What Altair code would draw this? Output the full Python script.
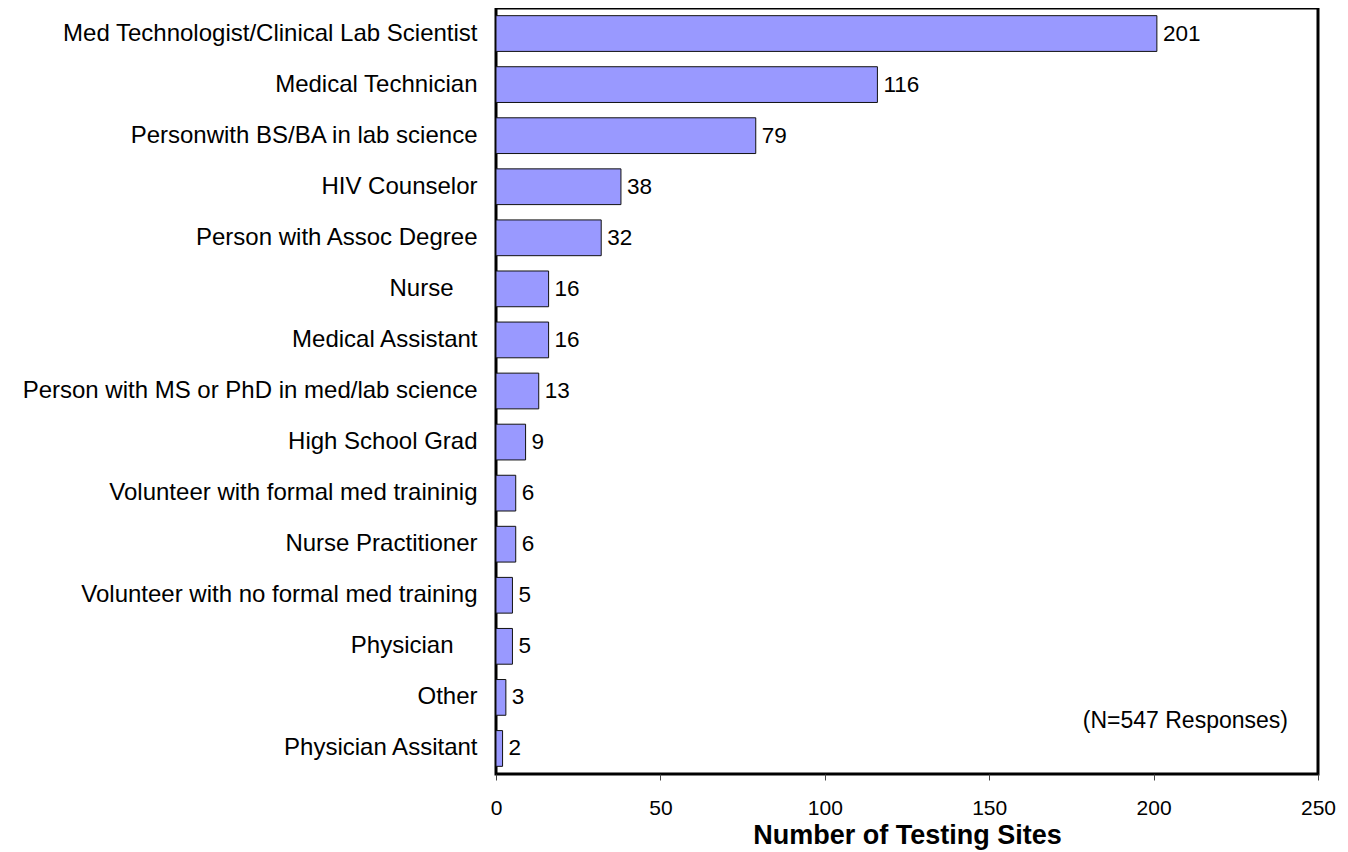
import altair as alt
import pandas as pd

categories = [
    "Med Technologist/Clinical Lab Scientist",
    "Medical Technician",
    "Personwith BS/BA in lab science",
    "HIV Counselor",
    "Person with Assoc Degree",
    "Nurse\u2003\u200b",
    "Medical Assistant",
    "Person with MS or PhD in med/lab science",
    "High School Grad",
    "Volunteer with formal med traininig",
    "Nurse Practitioner",
    "Volunteer with no formal med training",
    "Physician\u2003\u200b",
    "Other",
    "Physician Assitant",
]
values = [201, 116, 79, 38, 32, 16, 16, 13, 9, 6, 6, 5, 5, 3, 2]
tick_values = [0, 50, 100, 150, 200, 250]

df = pd.DataFrame({"role": categories, "sites": values})

FONT = "Liberation Sans"

y_enc = alt.Y(
    "role:N",
    sort=categories,
    scale=alt.Scale(paddingInner=0.3, paddingOuter=0.15),
    axis=alt.Axis(
        title=None, ticks=False, domain=False, labelFontSize=24,
        labelFont=FONT, labelColor="black", labelPadding=19, labelLimit=700,
    ),
)
x_enc = alt.X(
    "sites:Q",
    scale=alt.Scale(domain=[0, 250], nice=False),
    axis=alt.Axis(
        title="Number of Testing Sites", values=tick_values,
        grid=False, domain=False, tickSize=6, tickColor="#444",
        labelFlush=False,
        labelFontSize=21, labelFont=FONT, labelColor="black", labelPadding=17,
        titleFontSize=27, titleFont=FONT, titleFontWeight="bold",
        titleColor="black", titlePadding=4,
    ),
)

bars = alt.Chart(df).mark_bar(
    color="#9999FF", stroke="#111", strokeWidth=1
).encode(x=x_enc, y=y_enc)

labels = alt.Chart(df).mark_text(
    align="left", baseline="middle", dx=6, fontSize=22.5, font=FONT, color="black"
).encode(x="sites:Q", y=alt.Y("role:N", sort=categories), text="sites:Q")

note = alt.Chart(pd.DataFrame({"t": ["(N=547 Responses)"]})).mark_text(
    align="right", baseline="middle", fontSize=23, font=FONT, color="black"
).encode(x=alt.value(792), y=alt.value(713), text="t:N")

chart = (bars + labels + note).properties(
    width=822, height=766,
    autosize=alt.AutoSizeParams(type="none"),
    padding={"left": 488, "top": 0, "right": 22, "bottom": 78},
).configure_view(stroke="black", strokeWidth=3)

chart.save("out.html", embed_options={"renderer": "svg", "actions": False})
